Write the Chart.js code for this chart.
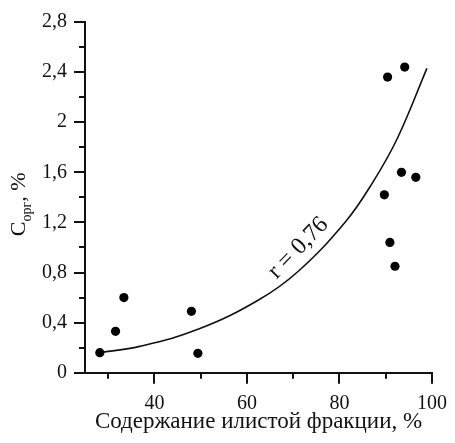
<!DOCTYPE html>
<html>
<head>
<meta charset="utf-8">
<script src="https://cdn.jsdelivr.net/npm/chart.js@4.4.0/dist/chart.umd.min.js"></script>
<style>
  html, body { margin: 0; padding: 0; background: #fff; }
  #wrap { width: 455px; height: 443px; }
</style>
</head>
<body>
<div id="wrap"><canvas id="chart"></canvas></div>
<script>
// measured samples: silt fraction (%) vs organic carbon (%)
const siltX = [28.2, 31.6, 33.4, 48.0, 49.4, 89.7, 90.4, 90.9, 92.0, 93.4, 94.1, 96.5];
const corgY = [0.16, 0.33, 0.60, 0.49, 0.155, 1.42, 2.36, 1.04, 0.85, 1.60, 2.44, 1.56];

// trend curve
const trendX = [28.2, 36.8, 49.7, 62.5, 71.1, 81.4, 87.2, 92.5, 98.9];
const trendY = [0.16, 0.21, 0.35, 0.58, 0.81, 1.21, 1.52, 1.87, 2.43];

const xTicks = [40, 60, 80, 100];
const xMinorTicks = [30, 50, 70, 90];
const yTicks = [0, 0.4, 0.8, 1.2, 1.6, 2, 2.4, 2.8];
const yMinorTicks = [0.2, 0.6, 1, 1.4, 1.8, 2.2, 2.6];

const xTitle = 'Содержание илистой фракции, %';
const rLabel = 'r = 0,76';
const rPos = [71.1, 0.995];

const serif = '"Liberation Serif", "DejaVu Serif", serif';
const isIn = (arr, v) => arr.some(t => Math.abs(t - v) < 1e-6);

// minor ticks, y title with subscript, r label along the curve
const extras = {
  id: 'extras',
  afterDraw(chart) {
    const ctx = chart.ctx;
    const xs = chart.scales.x, ys = chart.scales.y;
    ctx.save();
    ctx.strokeStyle = '#111';
    ctx.lineWidth = 2;
    ctx.beginPath();
    xMinorTicks.forEach(v => {
      const px = Math.round(xs.getPixelForValue(v));
      ctx.moveTo(px, ys.bottom);
      ctx.lineTo(px, ys.bottom + 6);
    });
    yMinorTicks.forEach(v => {
      const py = Math.round(ys.getPixelForValue(v));
      ctx.moveTo(xs.left, py);
      ctx.lineTo(xs.left - 6, py);
    });
    ctx.stroke();

    // y axis title: Сорг, %
    ctx.fillStyle = '#111';
    ctx.textBaseline = 'alphabetic';
    ctx.textAlign = 'left';
    const big = '22px ' + serif, small = '14px ' + serif;
    ctx.font = big;
    const wC = ctx.measureText('С').width;
    const wTail = ctx.measureText(', %').width;
    ctx.font = small;
    const wSub = ctx.measureText('орг').width;
    const total = wC + wSub + wTail;
    ctx.translate(25, (ys.top + ys.bottom) / 2 + 7);
    ctx.rotate(-Math.PI / 2);
    let lx = -total / 2;
    ctx.font = big;
    ctx.fillText('С', lx, 0);
    lx += wC;
    ctx.font = small;
    ctx.fillText('орг', lx, 6);
    lx += wSub;
    ctx.font = big;
    ctx.fillText(', %', lx, 0);
    ctx.restore();

    // r label
    ctx.save();
    ctx.fillStyle = '#111';
    ctx.font = '24px ' + serif;
    ctx.textAlign = 'center';
    ctx.textBaseline = 'middle';
    ctx.translate(xs.getPixelForValue(rPos[0]), ys.getPixelForValue(rPos[1]));
    ctx.rotate(-46 * Math.PI / 180);
    ctx.fillText(rLabel, 0, 0);
    ctx.restore();
  }
};

new Chart(document.getElementById('chart'), {
  type: 'scatter',
  data: {
    datasets: [
      {
        data: siltX.map((x, i) => ({x: x, y: corgY[i]})),
        backgroundColor: '#000',
        borderWidth: 0,
        pointRadius: 4.6
      },
      {
        type: 'line',
        data: trendX.map((x, i) => ({x: x, y: trendY[i]})),
        borderColor: '#111',
        borderWidth: 1.6,
        pointRadius: 0,
        fill: false,
        tension: 0.4
      }
    ]
  },
  options: {
    responsive: true,
    maintainAspectRatio: false,
    animation: false,
    layout: { padding: { left: 0, right: 20, top: 22, bottom: 0 } },
    plugins: { legend: { display: false }, tooltip: { enabled: false } },
    scales: {
      x: {
        type: 'linear',
        min: 25,
        max: 100,
        afterBuildTicks: s => { s.ticks = xMinorTicks.concat(xTicks).sort((a, b) => a - b).map(v => ({value: v})); },
        afterFit: s => { s.height = 70.3; },
        ticks: {
          autoSkip: false,
          maxRotation: 0,
          padding: 8,
          color: '#111',
          font: { family: serif, size: 20 },
          callback: v => isIn(xTicks, v) ? String(v) : ''
        },
        grid: {
          drawOnChartArea: false,
          tickLength: 11,
          lineWidth: 2,
          color: c => (c.tick && isIn(xTicks, c.tick.value)) ? '#111' : 'rgba(0,0,0,0)'
        },
        border: { display: true, color: '#111', width: 2 },
        title: {
          display: true,
          text: xTitle,
          color: '#111',
          font: { family: serif, size: 23 },
          padding: { top: 0, bottom: 7 }
        }
      },
      y: {
        type: 'linear',
        min: 0,
        max: 2.8,
        afterBuildTicks: s => { s.ticks = yMinorTicks.concat(yTicks).sort((a, b) => a - b).map(v => ({value: v})); },
        afterFit: s => { s.width = 85; },
        ticks: {
          autoSkip: false,
          padding: 7,
          color: '#111',
          font: { family: serif, size: 20 },
          callback: v => isIn(yTicks, v) ? String(v).replace('.', ',') : ''
        },
        grid: {
          drawOnChartArea: false,
          tickLength: 11,
          lineWidth: 2,
          color: c => (c.tick && isIn(yTicks, c.tick.value)) ? '#111' : 'rgba(0,0,0,0)'
        },
        border: { display: true, color: '#111', width: 2 }
      }
    }
  },
  plugins: [extras]
});
</script>
</body>
</html>
